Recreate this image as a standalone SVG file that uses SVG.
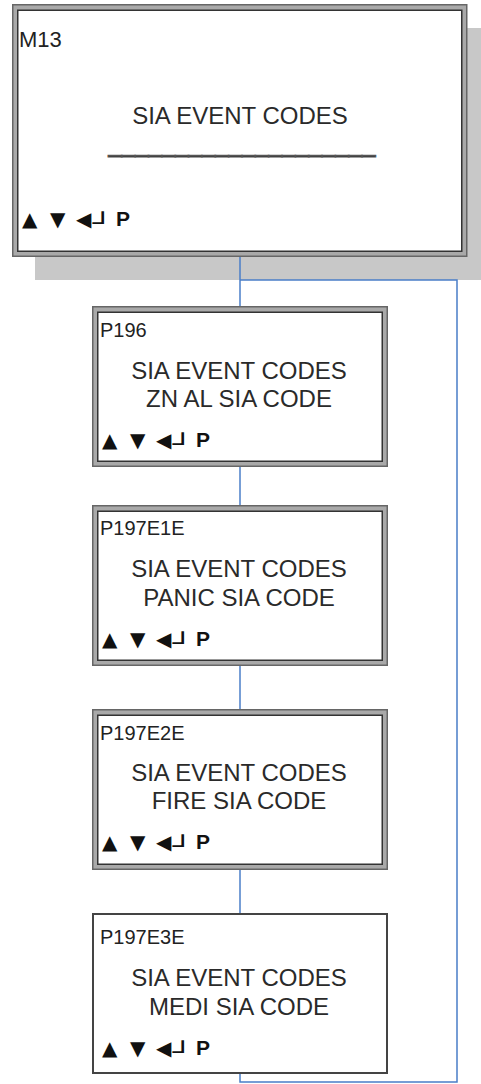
<svg xmlns="http://www.w3.org/2000/svg" width="481" height="1084" viewBox="0 0 481 1084">
<style>
.band{fill:#a9a9a9;stroke:#666;stroke-width:1.5}
.inner{fill:#fff;stroke:#333;stroke-width:1.5}
.single{fill:#fff;stroke:#444;stroke-width:2}
.lbl{font-family:"Liberation Sans",Arial,sans-serif;font-size:20px;fill:#222}
.big{font-family:"Liberation Sans",Arial,sans-serif;font-size:24px;fill:#2a2a2a;text-anchor:middle}
.sym{font-family:"DejaVu Sans",sans-serif;font-size:20px;fill:#111}
.box{font-family:"DejaVu Sans",sans-serif;font-size:20px;fill:#111}
.pk{font-family:"Liberation Sans",Arial,sans-serif;font-size:21px;font-weight:bold;fill:#111}
.conn{fill:none;stroke:#4a7ec8;stroke-width:1.5}
</style>
<rect x="35" y="28" width="460" height="252" fill="#c8c8c8"/>
<g id="connectors">
<line class="conn" x1="240" y1="257" x2="240" y2="306"/>
<line class="conn" x1="240" y1="467" x2="240" y2="505"/>
<line class="conn" x1="240" y1="666" x2="240" y2="709"/>
<line class="conn" x1="240" y1="870" x2="240" y2="913"/>
<polyline class="conn" points="240,1073 240,1082 457,1082 457,280 240,280"/>
</g>
<g id="M13">
<rect class="band" x="12.75" y="4.75" width="454" height="251.5"/>
<rect class="inner" x="17.75" y="10.25" width="444" height="241"/>
<text class="lbl" x="19" y="46.5" style="font-size:22px">M13</text>
<text class="big" x="240" y="124">SIA EVENT CODES</text>
<text class="big" x="242" y="151.5" style="stroke:#555;stroke-width:1.2">____________________</text>
<text class="sym" x="22" y="226">▲</text>
<text class="sym" x="50" y="226">▼</text>
<text class="sym" x="76" y="226">◀</text>
<text class="box" x="92.5" y="230" textLength="20" lengthAdjust="spacingAndGlyphs">┘</text>
<text class="pk" x="116" y="226">P</text>
</g>
<g id="P196">
<rect class="band" x="92.75" y="306.75" width="294.5" height="159.5"/>
<rect class="inner" x="97.75" y="312.25" width="284.5" height="149"/>
<text class="lbl" x="100" y="337">P196</text>
<text class="big" x="239" y="379">SIA EVENT CODES</text>
<text class="big" x="239" y="407">ZN AL SIA CODE</text>
<text class="sym" x="102" y="447">▲</text>
<text class="sym" x="130" y="447">▼</text>
<text class="sym" x="156" y="447">◀</text>
<text class="box" x="172.5" y="451" textLength="20" lengthAdjust="spacingAndGlyphs">┘</text>
<text class="pk" x="196" y="447">P</text>
</g>
<g id="P197E1E">
<rect class="band" x="92.75" y="505.75" width="294.5" height="159.5"/>
<rect class="inner" x="97.75" y="511.25" width="284.5" height="149"/>
<text class="lbl" x="100" y="535">P197E1E</text>
<text class="big" x="239" y="577">SIA EVENT CODES</text>
<text class="big" x="239" y="606">PANIC SIA CODE</text>
<text class="sym" x="102" y="646">▲</text>
<text class="sym" x="130" y="646">▼</text>
<text class="sym" x="156" y="646">◀</text>
<text class="box" x="172.5" y="650" textLength="20" lengthAdjust="spacingAndGlyphs">┘</text>
<text class="pk" x="196" y="646">P</text>
</g>
<g id="P197E2E">
<rect class="band" x="92.75" y="709.75" width="294.5" height="159.5"/>
<rect class="inner" x="97.75" y="715.25" width="284.5" height="149"/>
<text class="lbl" x="100" y="740">P197E2E</text>
<text class="big" x="239" y="781">SIA EVENT CODES</text>
<text class="big" x="239" y="809">FIRE SIA CODE</text>
<text class="sym" x="102" y="849">▲</text>
<text class="sym" x="130" y="849">▼</text>
<text class="sym" x="156" y="849">◀</text>
<text class="box" x="172.5" y="853" textLength="20" lengthAdjust="spacingAndGlyphs">┘</text>
<text class="pk" x="196" y="849">P</text>
</g>
<g id="P197E3E">
<rect class="single" x="93" y="914" width="294" height="159"/>
<text class="lbl" x="100" y="944">P197E3E</text>
<text class="big" x="239" y="986">SIA EVENT CODES</text>
<text class="big" x="239" y="1015">MEDI SIA CODE</text>
<text class="sym" x="102" y="1055">▲</text>
<text class="sym" x="130" y="1055">▼</text>
<text class="sym" x="156" y="1055">◀</text>
<text class="box" x="172.5" y="1059" textLength="20" lengthAdjust="spacingAndGlyphs">┘</text>
<text class="pk" x="196" y="1055">P</text>
</g>
</svg>
